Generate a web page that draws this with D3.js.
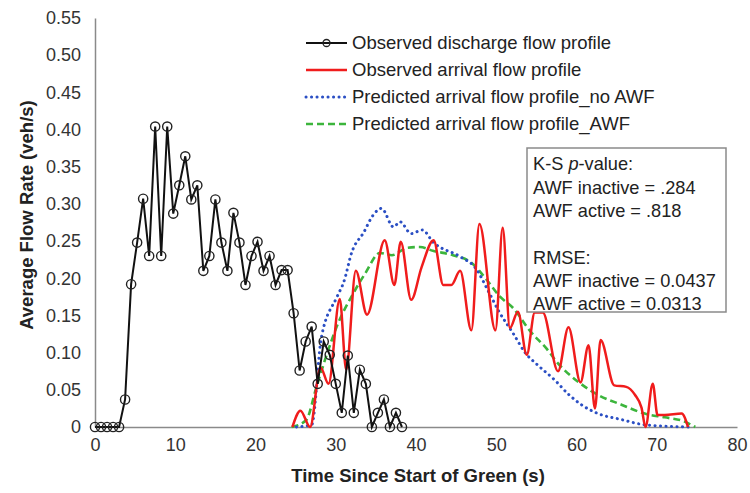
<!DOCTYPE html>
<html>
<head>
<meta charset="utf-8">
<script src="https://cdn.jsdelivr.net/npm/d3@7"></script>
<style>
  body { margin: 0; background: #fff; }
  svg { display: block; font-family: "Liberation Sans", Arial, sans-serif; }
</style>
</head>
<body>
<div id="chart"></div>
<script>
// observed discharge flow profile (0.75 s bins)
const dischargeTime = [0, 0.75, 1.5, 2.25, 3, 3.75, 4.5, 5.25, 6, 6.75, 7.5, 8.25, 9, 9.75,
  10.5, 11.25, 12, 12.75, 13.5, 14.25, 15, 15.75, 16.5, 17.25, 18, 18.75, 19.5, 20.25, 21,
  21.75, 22.5, 23.25, 24, 24.75, 25.5, 26.25, 27, 27.75, 28.5, 29.25, 30, 30.75, 31.5, 32.25,
  33, 33.75, 34.5, 35.25, 36, 36.75, 37.5, 38.25];
const dischargeFlow = [0, 0, 0, 0, 0, 0.037, 0.192, 0.248, 0.307, 0.230, 0.404, 0.230, 0.404,
  0.287, 0.325, 0.364, 0.306, 0.325, 0.210, 0.230, 0.306, 0.248, 0.210, 0.288, 0.248, 0.191,
  0.230, 0.249, 0.210, 0.230, 0.191, 0.211, 0.211, 0.153, 0.076, 0.115, 0.135, 0.058, 0.115,
  0.097, 0.058, 0.019, 0.096, 0.019, 0.077, 0.058, 0, 0.019, 0.037, 0, 0.019, 0];

// observed arrival flow profile
const arrivalTime = [24.6, 25.6, 26.8, 28.1, 29.1, 30.5, 31.3, 32.5, 33.9, 36.1, 37.3, 38.1,
  39.4, 40.7, 42.2, 43.4, 44.4, 45.5, 46.9, 47.9, 49.9, 50.8, 51.7, 52.7, 53.8, 54.8, 55.8,
  57.7, 59.0, 60.5, 61.5, 62.3, 63.0, 64.7, 66.2, 67.3, 68.1, 68.6, 69.5, 70.1, 71.0, 73.1, 73.9];
const arrivalFlow = [0, 0.022, 0, 0.08, 0.058, 0.172, 0.077, 0.21, 0.151, 0.251, 0.191, 0.249,
  0.171, 0.215, 0.251, 0.191, 0.191, 0.21, 0.13, 0.273, 0.13, 0.268, 0.133, 0.155, 0.097,
  0.154, 0.154, 0.075, 0.134, 0.06, 0.11, 0.025, 0.117, 0.056, 0.054, 0.043, 0.026, 0, 0.058,
  0.016, 0.016, 0.018, 0];

// predicted arrival flow profile, no AWF
const noAwfTime = [25.1, 27.0, 28.2, 30.2, 31.0, 32.0, 33.5, 34.6, 35.7, 37.2, 38.0, 39.4,
  40.8, 42.1, 45.5, 47.4, 49.0, 50.3, 52.1, 53.6, 55.3, 57.3, 59.0, 60.6, 62.7, 65.6, 68.5, 73.9];
const noAwfFlow = [0, 0.003, 0.12, 0.176, 0.195, 0.235, 0.262, 0.284, 0.294, 0.269, 0.276, 0.26,
  0.265, 0.249, 0.229, 0.214, 0.183, 0.156, 0.126, 0.1, 0.082, 0.063, 0.044, 0.03, 0.018, 0.01,
  0.003, 0];

// predicted arrival flow profile, AWF
const awfTime = [24.5, 26.3, 27.6, 28.9, 30.2, 32.1, 33.7, 35.5, 37.0, 38.9, 40.5, 42.1, 44.6,
  46.9, 48.8, 50.4, 52.1, 54.3, 56.3, 57.5, 60.3, 62.7, 65.6, 68.5, 71.0, 73.3, 74.8];
const awfFlow = [0, 0.009, 0.054, 0.098, 0.137, 0.178, 0.207, 0.234, 0.231, 0.241, 0.242, 0.237,
  0.231, 0.221, 0.198, 0.176, 0.16, 0.128, 0.105, 0.088, 0.06, 0.043, 0.03, 0.018, 0.013, 0.008, 0];

const xTicks = [0, 10, 20, 30, 40, 50, 60, 70, 80];
const yTicks = [0, 0.05, 0.10, 0.15, 0.20, 0.25, 0.30, 0.35, 0.40, 0.45, 0.50, 0.55];
const legendLabels = ['Observed discharge flow profile', 'Observed arrival flow profile',
  'Predicted arrival flow profile_no AWF', 'Predicted arrival flow profile_AWF'];
const statLines = ['K-S |p|-value:', 'AWF inactive = .284', 'AWF active = .818', '',
  'RMSE:', 'AWF inactive = 0.0437', 'AWF active = 0.0313'];

const width = 750, height = 493;
const margin = { top: 18, right: 13, bottom: 66, left: 95 };

const svg = d3.select('#chart').append('svg')
  .attr('width', width)
  .attr('height', height);

const x = d3.scaleLinear().domain([0, 80]).range([margin.left, width - margin.right]);
const y = d3.scaleLinear().domain([0, 0.55]).range([height - margin.bottom, margin.top]);

const zip = (t, v) => t.map((d, i) => ({ t: d, v: v[i] }));

// axes
const xAxis = svg.append('g')
  .attr('transform', `translate(0,${y(0)})`)
  .call(d3.axisBottom(x).tickValues(xTicks).tickSize(0).tickPadding(11).tickFormat(d3.format('d')));
const yAxis = svg.append('g')
  .attr('transform', `translate(${x(0)},0)`)
  .call(d3.axisLeft(y).tickValues(yTicks).tickSize(0).tickPadding(14)
    .tickFormat(d => d === 0 ? '0' : d3.format('.2f')(d)));

[xAxis, yAxis].forEach(g => {
  g.select('.domain').attr('stroke', '#8a8a8a').attr('stroke-width', 1.5);
  g.selectAll('text').attr('fill', '#333').style('font-size', '18px');
});

// axis titles
svg.append('text')
  .attr('x', (x(0) + x(80)) / 2 + 2)
  .attr('y', 482)
  .attr('text-anchor', 'middle')
  .style('font-size', '18.5px')
  .style('font-weight', 'bold')
  .attr('fill', '#222')
  .text('Time Since Start of Green (s)');

svg.append('text')
  .attr('transform', `translate(33,${y(0.285)}) rotate(-90)`)
  .attr('text-anchor', 'middle')
  .style('font-size', '18.5px')
  .style('font-weight', 'bold')
  .attr('fill', '#222')
  .text('Average Flow Rate (veh/s)');

// series
const straight = d3.line().x(d => x(d.t)).y(d => y(d.v));
const smooth = d3.line().x(d => x(d.t)).y(d => y(d.v)).curve(d3.curveMonotoneX);

svg.append('path')
  .datum(zip(awfTime, awfFlow))
  .attr('fill', 'none')
  .attr('stroke', '#3cb53c')
  .attr('stroke-width', 2.6)
  .attr('stroke-dasharray', '7,4')
  .attr('d', smooth);

svg.append('path')
  .datum(zip(noAwfTime, noAwfFlow))
  .attr('fill', 'none')
  .attr('stroke', '#2b4fc4')
  .attr('stroke-width', 3)
  .attr('stroke-linecap', 'round')
  .attr('stroke-dasharray', '0.1,5.4')
  .attr('d', smooth);

svg.append('path')
  .datum(zip(arrivalTime, arrivalFlow))
  .attr('fill', 'none')
  .attr('stroke', '#f01c1c')
  .attr('stroke-width', 2.5)
  .attr('d', smooth);

const discharge = zip(dischargeTime, dischargeFlow);
svg.append('path')
  .datum(discharge)
  .attr('fill', 'none')
  .attr('stroke', '#111')
  .attr('stroke-width', 2)
  .attr('d', straight);

svg.selectAll('.dot')
  .data(discharge)
  .enter()
  .append('circle')
  .attr('class', 'dot')
  .attr('cx', d => x(d.t))
  .attr('cy', d => y(d.v))
  .attr('r', 4.6)
  .attr('fill', 'none')
  .attr('stroke', '#222')
  .attr('stroke-width', 1.4);

// legend
const legendStyles = [
  { stroke: '#111', width: 2, dash: null, cap: 'butt' },
  { stroke: '#f01c1c', width: 2.5, dash: null, cap: 'butt' },
  { stroke: '#2b4fc4', width: 3, dash: '0.1,5.4', cap: 'round' },
  { stroke: '#3cb53c', width: 2.6, dash: '7,4', cap: 'butt' }
];
const legend = svg.append('g');
legendLabels.forEach((label, i) => {
  const ly = 43 + i * 27;
  const s = legendStyles[i];
  legend.append('line')
    .attr('x1', 306).attr('x2', 347)
    .attr('y1', ly).attr('y2', ly)
    .attr('stroke', s.stroke)
    .attr('stroke-width', s.width)
    .attr('stroke-linecap', s.cap)
    .attr('stroke-dasharray', s.dash);
  if (i === 0) {
    legend.append('circle')
      .attr('cx', 326.5).attr('cy', ly).attr('r', 3.5)
      .attr('fill', 'none').attr('stroke', '#222').attr('stroke-width', 1.3);
  }
  legend.append('text')
    .attr('x', 352).attr('y', ly)
    .attr('dy', '0.35em')
    .style('font-size', '18.5px')
    .attr('fill', '#222')
    .text(label);
});

// statistics box
svg.append('rect')
  .attr('x', 527).attr('y', 148)
  .attr('width', 199).attr('height', 164)
  .attr('fill', '#fff')
  .attr('stroke', '#8a8a8a')
  .attr('stroke-width', 1.5);

statLines.forEach((line, i) => {
  if (!line) return;
  const t = svg.append('text')
    .attr('x', 533)
    .attr('y', 164 + i * 23.3)
    .attr('dy', '0.35em')
    .style('font-size', '18.2px')
    .attr('fill', '#222');
  line.split('|').forEach((part, j) => {
    t.append('tspan').style('font-style', j === 1 ? 'italic' : 'normal').text(part);
  });
});
</script>
</body>
</html>
